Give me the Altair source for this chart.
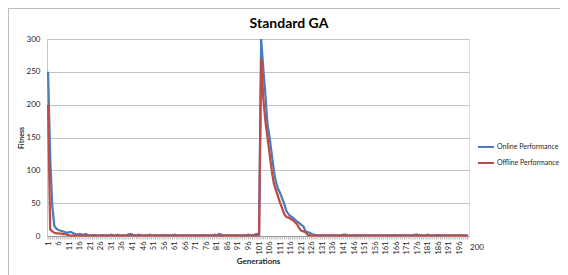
import altair as alt
import pandas as pd

generations = list(range(1, 201))

online = [
    250, 120, 45, 15, 11, 9, 8, 7, 6, 5,
    6, 6, 4, 3, 2, 3, 2, 2, 3, 1,
    1, 1, 1.5, 1, 1, 1, 1.5, 1, 1, 1,
    2, 1, 1, 2, 1, 1, 1, 1, 2, 3,
    2, 1, 1, 2, 1, 1, 1, 1, 2, 1,
    1, 1, 1, 1, 1, 1, 1.5, 1, 1, 1,
    2, 1, 1, 1, 1, 1, 1, 1, 1, 1,
    1, 1, 1, 1.5, 1, 1, 1, 1, 1, 2,
    1, 3, 2, 1, 1, 1, 1, 1, 1, 1,
    1, 1, 1, 1, 1, 2, 1, 1, 2, 3,
    2, 300, 255, 215, 170, 150, 125, 100, 82, 72,
    65, 57, 48, 38, 33, 30, 28, 25, 22, 20,
    17, 15, 7, 6, 5, 3, 2, 1.5, 1, 1,
    1, 1, 1, 1, 1, 1, 1, 1, 1, 1,
    2, 2, 1, 1, 1, 1, 1, 1, 1, 1,
    1, 1, 1, 1, 1, 1, 1, 1, 1, 1,
    1, 1, 1, 1, 1.5, 1, 1, 1, 1, 1,
    1, 1, 1, 1, 2, 2, 1, 1, 1, 1,
    2, 1, 1, 1, 1, 1.5, 1, 1, 1, 1,
    1, 1, 1, 1, 1, 1, 1, 1, 1, 1,
]

offline = [
    200, 10, 7, 5, 4, 4, 3.5, 3, 3, 2,
    1, 0.5, 0.5, 0.5, 0.5, 0.5, 0.5, 0.5, 0.5, 0.5,
    0.5, 0.5, 0.5, 0.5, 0.5, 0.5, 0.5, 0.5, 0.5, 0.5,
    0.5, 0.5, 0.5, 0.5, 0.5, 0.5, 0.5, 0.5, 0.5, 0.5,
    0.5, 0.5, 0.5, 0.5, 0.5, 0.5, 0.5, 0.5, 0.5, 0.5,
    0.5, 0.5, 0.5, 0.5, 0.5, 0.5, 0.5, 0.5, 0.5, 0.5,
    0.5, 0.5, 0.5, 0.5, 0.5, 0.5, 0.5, 0.5, 0.5, 0.5,
    0.5, 0.5, 0.5, 0.5, 0.5, 0.5, 0.5, 0.5, 0.5, 0.5,
    0.5, 0.5, 0.5, 0.5, 0.5, 0.5, 0.5, 0.5, 0.5, 0.5,
    0.5, 0.5, 0.5, 0.5, 0.5, 0.5, 0.5, 0.5, 0.5, 0.5,
    1, 270, 210, 175, 150, 125, 100, 80, 70, 60,
    50, 42, 33, 29, 28, 26, 24, 21, 18, 12,
    8, 7, 6, 2, 1, 0.5, 0.5, 0.5, 0.5, 0.5,
    0.5, 0.5, 0.5, 0.5, 0.5, 0.5, 0.5, 0.5, 0.5, 0.5,
    0.5, 0.5, 0.5, 0.5, 0.5, 0.5, 0.5, 0.5, 0.5, 0.5,
    0.5, 0.5, 0.5, 0.5, 0.5, 0.5, 0.5, 0.5, 0.5, 0.5,
    0.5, 0.5, 0.5, 0.5, 0.5, 0.5, 0.5, 0.5, 0.5, 0.5,
    0.5, 0.5, 0.5, 0.5, 0.5, 0.5, 0.5, 0.5, 0.5, 0.5,
    0.5, 0.5, 0.5, 0.5, 0.5, 0.5, 0.5, 0.5, 0.5, 0.5,
    0.5, 0.5, 0.5, 0.5, 0.5, 0.5, 0.5, 0.5, 0.5, 0.5,
]

series_names = ["Online Performance", "Offline Performance"]
series_colors = ["#4A7EBB", "#BE4B48"]
y_ticks = [0, 50, 100, 150, 200, 250, 300]
x_label_values = [g for g in generations if (g - 1) % 5 == 0]
end_label = ["200"]
title_text = ["Standard GA"]

rows = []
for g, v in zip(generations, online):
    rows.append({"gen": g, "value": v, "series": series_names[0]})
for g, v in zip(generations, offline):
    rows.append({"gen": g, "value": v, "series": series_names[1]})
df = pd.DataFrame(rows)
gen_df = pd.DataFrame({"gen": generations, "value": [0] * len(generations)})

FONT = "Lato"
TXT = "#262626"

x_scale = alt.Scale(domain=[0.5, 200.5], nice=False, zero=False)
y_scale = alt.Scale(domain=[0, 300], nice=False)

x_axis = alt.Axis(
    values=x_label_values,
    labelAngle=-90,
    labelFontSize=7.5,
    labelFont=FONT,
    labelColor=TXT,
    labelOverlap=False,
    labelFlush=False,
    labelPadding=5,
    ticks=False,
    domainColor="#9a9a9a",
    grid=False,
    title="Generations",
    titleFont=FONT,
    titleFontSize=8,
    titleFontWeight="bold",
    titleColor=TXT,
    titlePadding=3,
)
y_axis = alt.Axis(
    values=y_ticks,
    labelFontSize=8,
    labelFont=FONT,
    labelColor=TXT,
    labelPadding=7,
    ticks=False,
    domainColor="#c8c8c8",
    gridColor="#c4c4c4",
    gridWidth=1,
    title="Fitness",
    titleFont=FONT,
    titleFontSize=7,
    titleFontWeight="bold",
    titleColor=TXT,
    titlePadding=2,
)
x_enc = alt.X("gen:Q", scale=x_scale, axis=x_axis)
y_enc = alt.Y("value:Q", scale=y_scale, axis=y_axis)

color_enc = alt.Color(
    "series:N",
    scale=alt.Scale(domain=series_names, range=series_colors),
    legend=alt.Legend(
        title=None,
        orient="none",
        legendX=430,
        legendY=99,
        symbolType="stroke",
        symbolSize=256,
        symbolStrokeWidth=2,
        labelFont=FONT,
        labelFontSize=7,
        labelColor=TXT,
        labelOffset=2,
        rowPadding=3,
    ),
)

# minor category ticks below the axis, one per generation
minor_ticks = alt.Chart(gen_df).mark_rule(color="#a0a0a0", strokeWidth=0.8).encode(
    x=x_enc, y=y_enc, y2=alt.value(200.5))

base = alt.Chart(df)
line_on = base.transform_filter(alt.datum.series == series_names[0]).mark_line(strokeWidth=2.25).encode(
    x=x_enc, y=y_enc, color=color_enc)
line_off = base.transform_filter(alt.datum.series == series_names[1]).mark_line(strokeWidth=2.25).encode(
    x=x_enc, y=y_enc, color=color_enc)

end_df = pd.DataFrame({"gen": [200.5], "value": [0], "label": end_label})
end_text = alt.Chart(end_df).mark_text(
    align="left", baseline="middle", dx=1, dy=12, font=FONT, fontSize=8, color=TXT
).encode(x=x_enc, y=y_enc, text="label:N")

title_df = pd.DataFrame({"t": title_text})
title_mark = alt.Chart(title_df).mark_text(
    align="center", baseline="alphabetic", font=FONT, fontSize=14, fontWeight="bold", color="#000000"
).encode(x=alt.value(242), y=alt.value(-11), text="t:N")

frame_left = alt.Chart(title_df).mark_rule(color="#bdbdbd", strokeWidth=1).encode(
    x=alt.value(-38.5), y=alt.value(-31), y2=alt.value(236))
frame_top = alt.Chart(title_df).mark_rule(color="#bdbdbd", strokeWidth=1).encode(
    x=alt.value(-38.5), x2=alt.value(513), y=alt.value(-30.5))

chart = alt.layer(
    line_on, line_off, minor_ticks, end_text, title_mark, frame_left, frame_top
).properties(
    width=422,
    height=197,
    autosize=alt.AutoSizeParams(type="none"),
    padding={"left": 39, "top": 31, "right": 91, "bottom": 39},
).configure_view(strokeWidth=0).configure(background="white").configure_axisX(labelOverlap=False)

chart.save("out.html", embed_options={"renderer": "svg", "actions": False})
